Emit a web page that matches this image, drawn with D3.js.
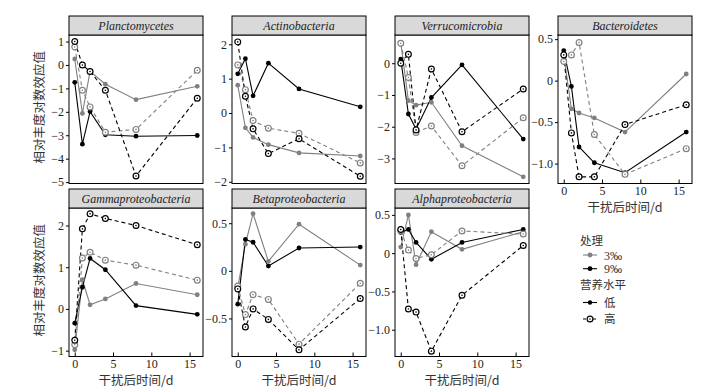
<!DOCTYPE html>
<html><head><meta charset="utf-8">
<script src="https://cdn.jsdelivr.net/npm/d3@7"></script>
<style>
body{margin:0;background:#fff;}
svg{display:block;}
</style></head>
<body>
<svg id="chart" width="725" height="392"></svg>
<script>
// ---------- data ----------
const days = [0, 1, 2, 4, 8, 16];
const taxa = ["Planctomycetes","Actinobacteria","Verrucomicrobia","Bacteroidetes",
              "Gammaproteobacteria","Betaproteobacteria","Alphaproteobacteria"];
// series: treatment 3‰ / 9‰ × nutrient level low / high ; one row per taxon
const low3 = [
  [0.26,-2.07,-0.27,-0.82,-1.48,-0.91],
  [0.81,-0.43,-0.71,-0.92,-1.16,-1.25],
  [0.66,-1.18,-1.32,-1.23,-2.60,-3.58],
  [0.31,-0.34,-0.39,-0.45,-0.62,0.08],
  [-0.98,0.70,0.10,0.24,0.61,0.34],
  [-0.18,0.28,0.60,0.10,0.49,0.06],
  [0.08,0.50,-0.15,0.28,0.05,0.28]
];
const low9 = [
  [-0.74,-3.38,-1.99,-2.98,-3.04,-3.01],
  [1.14,1.58,0.50,1.45,0.70,0.18],
  [0.13,-1.60,-2.07,-1.08,-0.05,-2.39],
  [0.36,-0.07,-0.80,-0.99,-1.11,-0.62],
  [-0.34,0.52,1.21,0.94,0.08,-0.13],
  [-0.35,0.33,0.30,0.05,0.24,0.25],
  [0.27,0.31,0.14,-0.08,0.14,0.31]
];
const high3 = [
  [0.77,-1.08,-1.79,-2.87,-2.75,-0.23],
  [1.40,0.68,-0.22,-0.44,-0.59,-1.45],
  [0.63,-0.45,-2.18,-1.98,-3.23,-1.72],
  [0.23,0.31,0.46,-0.65,-1.13,-0.82],
  [-0.86,1.22,1.36,1.17,1.05,0.69],
  [-0.16,-0.46,-0.25,-0.30,-0.77,-0.13],
  [0.29,0.04,-0.07,-0.02,0.29,0.25]
];
const high9 = [
  [1.00,0.00,-0.28,-1.08,-4.74,-1.42],
  [2.07,0.49,-0.46,-1.18,-0.75,-1.84],
  [0.00,0.28,-2.10,-0.18,-2.16,-0.81],
  [0.31,-0.63,-1.16,-1.16,-0.53,-0.29],
  [-0.75,1.92,2.28,2.17,2.00,1.54],
  [-0.19,-0.59,-0.40,-0.51,-0.83,-0.29],
  [0.31,-0.73,-0.77,-1.28,-0.55,0.10]
];
const yDomains = [[-5.06,1.28],[-2.05,2.27],[-3.79,0.89],[-1.24,0.55],
                  [-1.14,2.42],[-0.90,0.66],[-1.35,0.59]];
const yTicks = [[-5,-4,-3,-2,-1,0,1],[-2,-1,0,1,2],[-3,-2,-1,0],[-1,-0.5,0,0.5],
                [-1,0,1,2],[-0.5,0,0.5],[-1,-0.5,0,0.5]];
const yTickLabels = [["−5","−4","−3","−2","−1","0","1"],["−2","−1","0","1","2"],
                     ["−3","−2","−1","0"],["−1.0","−0.5","0","0.5"],
                     ["−1","0","1","2"],["−0.5","0","0.5"],["−1.0","−0.5","0","0.5"]];
const xTicks = [0,5,10,15];
const treatments = ["3‰","9‰"];
const levels = ["低","高"];
const yTitle = "相对丰度对数效应值";
const xTitle = "干扰后时间/d";

// ---------- layout ----------
const svg = d3.select("#chart");
const colLeft = [69,232,395,558];
const pw = 134, ph = 148.5, stripH = 19;
const rowStripTop = [16, 189];
const grey = "#808080", black = "#000000";
const serif = "'Liberation Serif','Times New Roman',serif";
const cjk = "'Noto Sans CJK SC','Noto Sans',sans-serif";

const series = [
  {vals: low3,  color: grey,  dash: null, open: false},
  {vals: low9,  color: black, dash: null, open: false},
  {vals: high3, color: grey,  dash: "4,3", open: true},
  {vals: high9, color: black, dash: "4,3", open: true}
];

const x = d3.scaleLinear().domain([-0.75,16.75]).range([0,pw]);

taxa.forEach((name,i)=>{
  const row = i<4?0:1, col = i<4?i:i-4;
  const left = colLeft[col];
  const stripTop = rowStripTop[row];
  const top = stripTop + stripH;
  const g = svg.append("g").attr("transform",`translate(${left},${top})`);
  const y = d3.scaleLinear().domain(yDomains[i]).range([ph,0]);

  // strip
  svg.append("rect").attr("x",left).attr("y",stripTop).attr("width",pw).attr("height",stripH)
    .attr("fill","#d9d9d9").attr("stroke","#000").attr("stroke-width",1);
  svg.append("text").attr("x",left+pw/2).attr("y",stripTop+stripH/2+4)
    .attr("text-anchor","middle").attr("font-family",serif).attr("font-style","italic")
    .attr("font-size",12).attr("fill","#222").text(name);

  // panel background
  g.append("rect").attr("width",pw).attr("height",ph).attr("fill","#fff");

  // y axis
  const ya = d3.axisLeft(y).tickValues(yTicks[i]).tickSize(3).tickPadding(2)
     .tickFormat((d,k)=>yTickLabels[i][k]);
  const yg = g.append("g").call(ya);
  yg.select(".domain").remove();
  yg.selectAll("text").attr("font-family",serif).attr("font-size",12).attr("fill","#222");
  yg.selectAll("line").attr("stroke","#000");

  // x axis (bottom of each column)
  const showX = (row===1) || col===3;
  if(showX){
    const xa = d3.axisBottom(x).tickValues(xTicks).tickSize(-4).tickPadding(3).tickFormat(d3.format("d"));
    const xg = g.append("g").attr("transform",`translate(0,${ph})`).call(xa);
    xg.select(".domain").remove();
    xg.selectAll("text").attr("font-family",serif).attr("font-size",12).attr("fill","#222");
    xg.selectAll("line").attr("stroke","#000");
    svg.append("text").attr("x",left+pw/2).attr("y",top+ph+28)
      .attr("text-anchor","middle").attr("font-family",cjk).attr("font-size",12.5)
      .attr("fill","#333").text(xTitle);
  }

  // lines + points
  const line = d3.line().x((d,k)=>x(days[k])).y(d=>y(d));
  series.forEach(s=>{
    const v = s.vals[i];
    g.append("path").attr("d",line(v)).attr("fill","none").attr("stroke",s.color)
      .attr("stroke-width",1.1).attr("stroke-dasharray",s.dash);
  });
  series.forEach(s=>{
    const v = s.vals[i];
    v.forEach((d,k)=>{
      if(s.open){
        g.append("circle").attr("cx",x(days[k])).attr("cy",y(d)).attr("r",2.9)
          .attr("fill","#fff").attr("stroke",s.color).attr("stroke-width",1.2);
        g.append("circle").attr("cx",x(days[k])).attr("cy",y(d)).attr("r",0.8).attr("fill",s.color);
      } else {
        g.append("circle").attr("cx",x(days[k])).attr("cy",y(d)).attr("r",2.4).attr("fill",s.color);
      }
    });
  });

  // border
  g.append("rect").attr("width",pw).attr("height",ph).attr("fill","none")
    .attr("stroke","#000").attr("stroke-width",1);
});

// y titles
[0,1].forEach(r=>{
  const cy = rowStripTop[r]+stripH+ph/2 - 2;
  svg.append("text").attr("transform",`translate(44,${cy}) rotate(-90)`)
    .attr("text-anchor","middle").attr("font-family",cjk).attr("font-size",12.5)
    .attr("fill","#333").text(yTitle);
});

// legend
const lg = svg.append("g");
lg.append("text").attr("x",580).attr("y",245).attr("font-family",cjk).attr("font-size",11.5).attr("fill","#333").text("处理");
[grey,black].forEach((c,k)=>{
  const yy = 255 + k*13.7;
  lg.append("line").attr("x1",583).attr("x2",597).attr("y1",yy).attr("y2",yy).attr("stroke",c).attr("stroke-width",1.1);
  lg.append("circle").attr("cx",590).attr("cy",yy).attr("r",2.4).attr("fill",c);
  lg.append("text").attr("x",604).attr("y",yy+4.5).attr("font-family",serif).attr("font-size",12).attr("fill","#333").text(treatments[k]);
});
lg.append("text").attr("x",580).attr("y",289).attr("font-family",cjk).attr("font-size",11.5).attr("fill","#333").text("营养水平");
levels.forEach((t,k)=>{
  const yy = 302.5 + k*16.5;
  lg.append("line").attr("x1",583).attr("x2",597).attr("y1",yy).attr("y2",yy).attr("stroke","#000").attr("stroke-width",1.1)
    .attr("stroke-dasharray",k===1?"3,2":null);
  if(k===0) lg.append("circle").attr("cx",590).attr("cy",yy).attr("r",2.2).attr("fill","#000");
  else {
    lg.append("circle").attr("cx",590).attr("cy",yy).attr("r",2.9).attr("fill","#fff").attr("stroke","#000").attr("stroke-width",1.2);
    lg.append("circle").attr("cx",590).attr("cy",yy).attr("r",0.8).attr("fill","#000");
  }
  lg.append("text").attr("x",604).attr("y",yy+4.2).attr("font-family",cjk).attr("font-size",11.5).attr("fill","#333").text(t);
});
</script>
</body></html>
